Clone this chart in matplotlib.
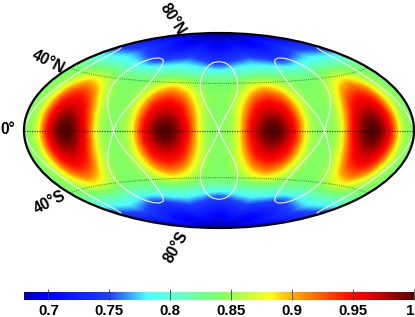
import numpy as np
import matplotlib
matplotlib.use('Agg')
import matplotlib.pyplot as plt
import matplotlib.tri as mtri
from matplotlib.colors import LinearSegmentedColormap

W, H = 415, 317

# north half of the map, lon measured from a trough (0) to a lobe centre (45)
lat_north = [0, 5, 10, 15, 20, 25, 30, 35, 40, 45, 50, 55, 60, 65, 70, 75, 80, 85, 90]
lon_quarter = [0, 7.5, 15, 22.5, 30, 37.5, 45]
field_quarter = [
    [.842, .848, .872, .925, .968, .992, 1.00],
    [.842, .848, .871, .922, .965, .989, .997],
    [.842, .847, .870, .917, .958, .980, .988],
    [.842, .846, .868, .908, .948, .968, .975],
    [.842, .845, .865, .898, .936, .955, .962],
    [.842, .844, .860, .885, .920, .938, .945],
    [.842, .843, .855, .873, .900, .918, .925],
    [.841, .841, .848, .860, .878, .892, .900],
    [.836, .836, .841, .848, .858, .866, .870],
    [.823, .823, .826, .830, .834, .837, .838],
    [.800, .801, .803, .806, .809, .811, .812],
    [.765, .768, .773, .779, .783, .786, .788],
    [.745, .747, .750, .755, .759, .763, .766],
    [.730, .732, .734, .737, .740, .743, .746],
    [.716, .718, .720, .723, .726, .728, .730],
    [.703, .704, .706, .709, .712, .715, .718],
    [.695, .696, .697, .699, .701, .703, .705],
    [.685, .685, .686, .687, .688, .689, .690],
    [.680, .680, .680, .680, .680, .680, .680],
]

# white figure-eight: half width in lon against lat, one for each centre
loop_lat = [0, 5, 10, 15, 20, 25, 30, 35, 40, 45, 50, 54, 57, 59, 60]
loop_half_width = [0, 2, 4.5, 7.5, 10.5, 13.5, 16, 18, 19, 19, 18, 16, 12.5, 8, 0]
loop_centres = [-90, 0, 90]

grid_lats = [-80, -40, 40, 80]
bar_ticks = [0.7, 0.75, 0.8, 0.85, 0.9, 0.95, 1.0]
bar_labels = ['0.7', '0.75', '0.8', '0.85', '0.9', '0.95', '1']

map_labels = [('80°N', 172, 19, -58), ('40°N', 48, 62, -27), ('0°', 8, 130, 0),
              ('40°S', 50, 202, 27), ('80°S', 176, 247, 60)]

plt.rcParams['font.family'] = ['Liberation Sans', 'DejaVu Sans']
plt.rcParams['font.weight'] = 'bold'

cmap = LinearSegmentedColormap.from_list('map', [
    (0.00, (0.0, 0.0, 0.67)), (0.06, (0.0, 0.0, 1.0)), (0.22, (0.12, 0.25, 1.0)),
    (0.315, (0.3, 1.0, 1.0)), (0.40, (0.4, 1.0, 0.78)), (0.50, (0.49, 1.0, 0.4)),
    (0.633, (1.0, 1.0, 0.1)), (0.69, (1.0, 0.67, 0.0)), (0.84, (1.0, 0.03, 0.0)),
    (0.89, (0.9, 0.0, 0.0)), (0.95, (0.6, 0.0, 0.0)), (1.00, (0.33, 0.0, 0.0))])

# unfold the quarter table by its mirror symmetry
north = np.array(field_quarter)
north = np.hstack([north, north[:, -2::-1]])
north = np.hstack([north[:, :-1]] * 4 + [north[:, :1]])
field = np.vstack([north[:0:-1], north])
lats = np.radians(np.r_[-np.array(lat_north[:0:-1]), lat_north])
lons = np.radians(np.arange(north.shape[1]) * 7.5 - 180)

# smooth the table for display, gouraud on the raw 7.5 deg cells shows facets
lon2d, lat2d = np.meshgrid(lons, lats)
tri = mtri.Triangulation(lon2d.ravel(), lat2d.ravel())
smooth = mtri.CubicTriInterpolator(tri, field.ravel())
fine_lon = np.radians(np.linspace(-179.9, 179.9, 241))
fine_lat = np.radians(np.linspace(-89.9, 89.9, 121))
fine_field = smooth(*np.meshgrid(fine_lon, fine_lat))

fig = plt.figure(figsize=(W / 100, H / 100), dpi=100)
ax = fig.add_axes([24 / W, 1 - 228 / H, 390 / W, 195 / H], projection='hammer')
mesh = ax.pcolormesh(fine_lon, fine_lat, fine_field, cmap=cmap, vmin=0.68, vmax=1.0,
                     shading='gouraud')
ax.grid(False)
ax.set_xticklabels([])
ax.set_yticklabels([])
ax.spines['geo'].set_linewidth(1.6)

# parallels
ax.plot(np.radians([-180, 180]), [0, 0], color='k', lw=0.9, ls=(0, (1, 1)), alpha=0.7)
for lat in grid_lats:
    ax.plot(np.radians([-180, 180]), np.radians([lat, lat]), color='#105010',
            lw=0.8, ls=(0, (1, 1)), alpha=0.55)

# white loops
wide = np.r_[loop_half_width, -np.array(loop_half_width[-2::-1])]
tall = np.r_[loop_lat, loop_lat[-2::-1]]
for sign in [1, -1]:
    for c in loop_centres:
        ax.plot(np.radians(c + wide), np.radians(sign * tall), color='w', lw=0.75)
    ax.plot(np.radians(-180 + np.array(loop_half_width)),
            np.radians(sign * np.array(loop_lat)), color='w', lw=0.75)
    ax.plot(np.radians(180 - np.array(loop_half_width)),
            np.radians(sign * np.array(loop_lat)), color='w', lw=0.75)

for text, x, y, rot in map_labels:
    fig.text(x / W, 1 - y / H, text, fontsize=11.2, fontweight='bold', rotation=rot,
             rotation_mode='anchor', ha='center', va='center', color='k')

cax = fig.add_axes([24 / W, 1 - 300 / H, 390 / W, 8 / H])
cbar = fig.colorbar(mesh, cax=cax, orientation='horizontal')
cbar.set_ticks(bar_ticks, labels=bar_labels)
cbar.outline.set_visible(False)
cax.tick_params(axis='x', direction='in', length=8, width=0.6, color='#404040',
                pad=3, labelsize=10.8)
cax.get_xticklabels()[-1].set_ha('right')

fig.savefig('out.png', dpi=100)
